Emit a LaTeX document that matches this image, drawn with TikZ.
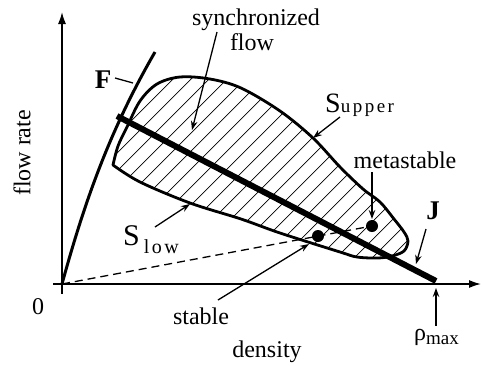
\documentclass[tikz,border=0pt]{standalone}
\usepackage{fontspec}
\setmainfont{Liberation Serif}
\usetikzlibrary{arrows.meta}
\newcommand{\syncregion}{plot[smooth, tension=0.55] coordinates {(113,165) (118,146) (127,127) (140,101) (157,84) (180,77) (210,79) (241,88) (280,111) (313,138) (340,167) (363,189) (380,202) (394,219) (404,232) (408,241) (404,251) (392,256) (378,258) (357,257) (340,252) (280,233) (241,219) (190,203) (140,182) (113,165)} -- cycle}
\begin{document}
\begin{tikzpicture}[x=1pt,y=-1pt,
  lbl/.style={font=\fontsize{24}{28}\selectfont, inner sep=0pt},
  boldlbl/.style={font=\fontsize{27}{30}\selectfont\bfseries, inner sep=0pt},
  arr/.style={line width=1.3pt, -{Stealth[length=9pt,width=6.5pt]}},
  axisline/.style={line width=1.5pt, -{Latex[length=12pt,width=8pt]}},
  hatchline/.style={line width=0.7pt},
  outlinepath/.style={line width=2.8pt, line join=round},
  dot/.style={circle, fill=black, inner sep=0pt, minimum size=12pt},
  dashline/.style={line width=1.3pt, dash pattern=on 8pt off 5pt}]
\useasboundingbox (0,0) rectangle (482,365);
% axes
\coordinate (O) at (62,284);
\coordinate (ytop) at (62,12);
\coordinate (ybot) at (62,294);
\coordinate (xl) at (53,284);
\coordinate (xr) at (481,284);
\draw[axisline] (ybot) -- (ytop);
\draw[axisline] (xl) -- (xr);
% hatched region
\begin{scope}
\clip \syncregion;
\foreach \a in {-140,-122,...,420} \draw[hatchline] (\a,320) -- ++(320,-320);
\end{scope}
\draw[outlinepath] \syncregion;
% line J
\coordinate (Jstart) at (117,116);
\coordinate (Jend) at (436,281);
\draw[line width=6pt] (Jstart) -- (Jend);
% line F
\coordinate (Ftop) at (155,52);
\draw[line width=3pt] (O) .. controls (85,200) and (110,130) .. (Ftop);
% states
\node[dot] (st) at (318,236) {};
\node[dot] (ms) at (372,226) {};
\draw[dashline] (O) -- (ms.center);
% labels
\node[lbl, anchor=base] (sync1) at (256,25) {synchronized};
\node[lbl, anchor=base] (sync2) at (252,50) {flow};
\node[lbl, anchor=base] (meta) at (405,168) {metastable};
\node[lbl, anchor=base] (stab) at (201,324) {stable};
\node[lbl, anchor=base] (dens) at (267,357) {density};
\node[lbl, anchor=base] (zero) at (38,314) {0};
\node[lbl, rotate=90, anchor=center] (frate) at (22,153) {flow rate};
\node[boldlbl, anchor=base] (Flab) at (103,88) {F};
\node[boldlbl, anchor=base] (Jlab) at (433,219) {J};
\node[inner sep=0pt, anchor=base west] (Sup) at (325,112) {\fontsize{28}{30}\selectfont S\fontsize{19}{20}\selectfont u\kern2.5pt p\kern2.5pt p\kern2.5pt e\kern2.5pt r};
\node[inner sep=0pt, anchor=base west] (Slow) at (123,245) {\fontsize{30}{32}\selectfont S\kern4pt\raisebox{-8pt}{\fontsize{20}{22}\selectfont l\kern2.5pt o\kern2.5pt w}};
\node[lbl, anchor=base west] (rho) at (414,340) {ρ\raisebox{-4pt}{\fontsize{19}{20}\selectfont max}};
% connectors
\coordinate (syncA) at (217,32);  \coordinate (syncB) at (192,130);
\draw[arr] (syncA) -- (syncB);
\coordinate (supA) at (340,117);  \coordinate (supB) at (313,138);
\draw[arr] (supA) -- (supB);
\coordinate (slowA) at (155,227); \coordinate (slowB) at (190,204);
\draw[arr] (slowA) -- (slowB);
\coordinate (metaA) at (372,172); \coordinate (metaB) at (372,219);
\draw[arr] (metaA) -- (metaB);
\coordinate (stA) at (218,300);   \coordinate (stB) at (309,244);
\draw[arr] (stA) -- (stB);
\coordinate (jA) at (426,229);    \coordinate (jB) at (416,264);
\draw[arr] (jA) -- (jB);
\coordinate (rhoA) at (436,326);  \coordinate (rhoB) at (436,288);
\draw[arr] (rhoA) -- (rhoB);
\coordinate (fA) at (115,78);     \coordinate (fB) at (133,83);
\draw[line width=1.3pt] (fA) -- (fB);
\end{tikzpicture}
\end{document}
